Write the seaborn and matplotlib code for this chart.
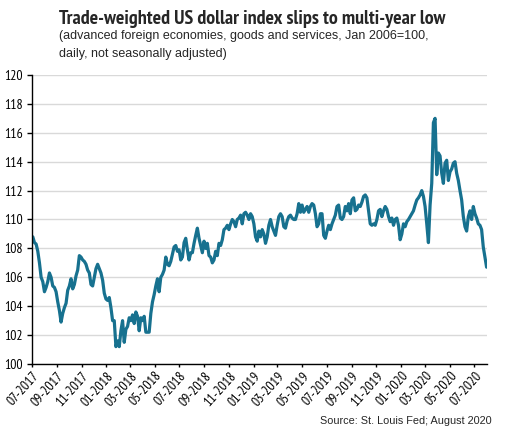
import numpy as np
import pandas as pd
import matplotlib
matplotlib.use("Agg")
import matplotlib.pyplot as plt
import matplotlib.dates as mdates
from matplotlib import font_manager
import seaborn as sns

# ---- data (roughly every 4 days) ----
seg_2017 = [108.8, 108.4, 108.3, 107.8, 107.0, 106.0, 105.7, 105.0, 105.3, 105.7,
            106.3, 106.0, 105.4, 105.3, 105.0, 104.3, 103.7, 102.9, 103.5, 103.9,
            104.2, 105.1, 105.4, 105.9, 105.2, 105.5, 106.1, 106.5, 107.5, 107.4,
            107.2, 107.1, 106.9, 106.5, 106.3, 105.5, 105.4, 106.0, 106.6, 106.9,
            106.6, 106.3, 105.8, 104.9, 104.5, 104.4, 104.6]
seg_2018a = [103.9, 103.0, 103.0, 101.2, 101.6, 101.2, 102.3, 103.0, 101.5, 102.4,
             102.6, 103.2, 103.0, 103.4, 102.8, 103.6, 103.3, 102.3, 103.2, 103.0,
             103.3, 102.2, 102.2, 102.2, 103.5, 104.3, 104.8, 105.4, 105.9, 105.0,
             106.0, 106.2, 106.5, 107.4, 106.9, 106.8, 107.1, 107.6, 108.1, 108.2,
             107.8, 107.9, 107.2, 107.4, 108.4]
seg_2018b = [108.7, 107.9, 107.2, 107.7, 107.7, 108.35, 108.9, 109.4, 108.7, 108.2,
             107.7, 108.5, 108.0, 108.35, 107.5, 107.4, 107.0, 107.2, 107.8, 107.5,
             108.35, 108.2, 108.6, 109.3, 109.4, 109.6, 109.3, 109.7, 110.0, 109.85,
             109.5, 110.0, 110.1, 110.3, 109.7, 110.4, 110.5, 110.3, 110.0, 110.4,
             110.2, 109.7, 108.8, 108.5, 109.2]
seg_2019a = [108.8, 109.3, 109.0, 108.35, 108.8, 109.6, 110.0, 109.5, 109.2, 108.9,
             109.6, 110.2, 110.4, 110.2, 109.5, 109.4, 109.9, 110.2, 110.3, 110.1,
             110.0, 110.0, 110.4, 111.1, 110.5, 111.0, 110.5, 110.7, 110.9, 110.5,
             110.9, 111.1, 111.0, 110.4, 109.5, 109.7, 110.4, 110.4, 108.9, 108.7,
             109.2, 109.6, 109.3, 109.7, 110.0]
seg_2019b = [110.3, 110.9, 111.0, 110.1, 110.0, 110.2, 110.9, 110.6, 111.1, 110.4,
             111.35, 111.5, 110.6, 110.7, 111.0, 110.9, 111.2, 111.6, 111.7, 111.5,
             110.6, 109.7, 109.6, 109.7, 109.6, 110.0, 110.6, 110.7, 110.2, 110.6,
             110.9, 110.7, 110.2, 109.85, 110.1, 109.6, 110.0, 110.1, 109.6, 108.6,
             109.0, 109.7, 109.5, 109.85, 110.0]
seg_2020 = [110.2, 110.4, 110.6, 111.0, 111.35, 111.5, 111.7, 112.0, 111.6, 110.9,
            109.7, 108.4, 111.0, 112.5, 116.7, 117.0, 113.1, 114.6, 114.4, 113.2,
            112.5, 113.9, 114.1, 112.7, 113.3, 113.5, 113.9, 114.0, 113.2, 112.7,
            112.0, 111.35, 110.2, 109.5, 109.2, 110.2, 110.6, 110.0, 110.9, 110.4,
            110.1, 109.7, 109.6, 109.3, 108.1, 107.4, 106.7]

values = seg_2017 + seg_2018a + seg_2018b + seg_2019a + seg_2019b + seg_2020
dates = pd.date_range("2017-07-03", "2020-07-31", periods=len(values))
df = pd.DataFrame({"date": dates, "index": values})

title = "Trade-weighted US dollar index slips to multi-year low"
subtitle1 = "(advanced foreign economies, goods and services, Jan 2006=100,"
subtitle2 = "daily, not seasonally adjusted)"
source = "Source: St. Louis Fed; August 2020"
y_ticks = list(range(100, 121, 2))

# ---- fonts ----
sns.set_theme(style="white")
fonts = font_manager.fontManager.ttflist
installed = {f.name for f in fonts}

def pick(cands, bold=False):
    for c in cands:
        if c in installed:
            if not bold or any(f.name == c and (f.weight in ("bold", 700) or (isinstance(f.weight, int) and f.weight >= 700)) for f in fonts):
                return c
    return "DejaVu Sans"

narrow_cands = ["Liberation Sans Narrow", "Arial Narrow", "Arimo Narrow", "PT Sans Narrow",
                "Archivo Narrow", "Roboto Condensed", "DejaVu Sans Condensed"]
narrow = pick(narrow_cands)
narrow_bold = pick(narrow_cands, bold=True)
regular = pick(["Liberation Sans", "Arimo", "Arial", "DejaVu Sans"])
plt.rcParams["font.family"] = [narrow, "DejaVu Sans"]

W, H = 505, 432
fig = plt.figure(figsize=(W / 100, H / 100), dpi=100)
ax = fig.add_axes([32 / W, 1 - 364 / H, (487 - 32) / W, (364 - 75) / H])

sns.lineplot(data=df, x="date", y="index", ax=ax, color="#17718f", linewidth=2.3)

ax.set_ylim(100, 120)
ax.set_yticks(y_ticks)
ax.set_yticklabels([str(t) for t in y_ticks])
ax.set_xlim(pd.Timestamp("2017-07-01"), pd.Timestamp("2020-08-01"))
ax.xaxis.set_major_locator(mdates.MonthLocator(bymonth=[1, 3, 5, 7, 9, 11]))
ax.xaxis.set_major_formatter(mdates.DateFormatter("%m-%Y"))
ax.set_xlabel("")
ax.set_ylabel("")
ax.yaxis.grid(True, color="#d9d9d9", linewidth=1)
ax.xaxis.grid(False)
ax.set_axisbelow(True)
for s in ["top", "right"]:
    ax.spines[s].set_visible(False)
for s in ["left", "bottom"]:
    ax.spines[s].set_color("black")
    ax.spines[s].set_linewidth(1)

# fit tick font size so that "120" is about as wide as in the reference
probe = fig.text(0, 0, "120", fontsize=10, family=[narrow, "DejaVu Sans"])
fig.canvas.draw()
tick_fs = 10 * 18.5 / probe.get_window_extent().width
probe.remove()

ax.tick_params(axis="y", which="major", direction="out", length=3.6, width=1,
               color="black", labelsize=tick_fs, labelcolor="black", pad=3.2, left=True)
ax.tick_params(axis="x", which="major", direction="out", length=2.4, width=1,
               color="black", labelsize=tick_fs, labelcolor="black", pad=1.5, bottom=True)
for lab in ax.get_xticklabels():
    lab.set_rotation(48)
    lab.set_ha("right")
    lab.set_rotation_mode("anchor")

t_title = fig.text(59 / W, 1 - 23.5 / H, title, fontsize=14, fontweight="bold",
                   family=[narrow_bold, "DejaVu Sans"], ha="left", va="baseline")
t_sub1 = fig.text(59 / W, 1 - 39.5 / H, subtitle1, fontsize=9,
                  family=[regular, "DejaVu Sans"], ha="left", va="baseline")
t_sub2 = fig.text(59 / W, 1 - 56.5 / H, subtitle2, fontsize=9,
                  family=[regular, "DejaVu Sans"], ha="left", va="baseline")
t_src = fig.text(492 / W, 1 - 424 / H, source, fontsize=8,
                 family=[regular, "DejaVu Sans"], ha="right", va="baseline")

def fit(t, target):
    fig.canvas.draw()
    w = t.get_window_extent().width
    t.set_fontsize(t.get_fontsize() * target / w)
    return t.get_fontsize()

fit(t_title, 389)
fs_sub = fit(t_sub1, 371)
t_sub2.set_fontsize(fs_sub)
fit(t_src, 172)

fig.savefig("out.png", dpi=100)
